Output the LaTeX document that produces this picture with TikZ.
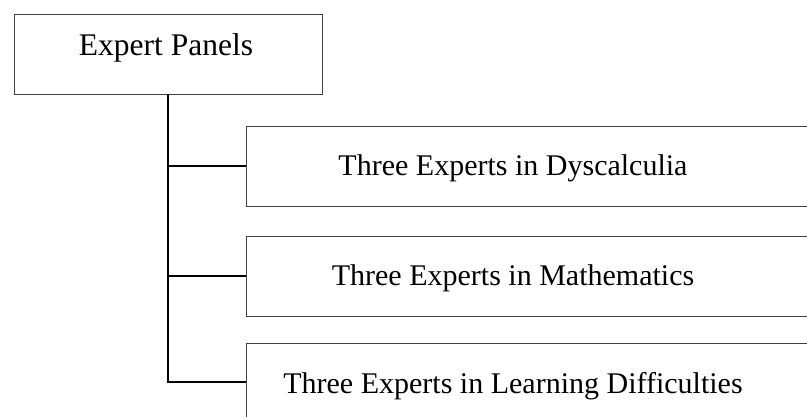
\documentclass[tikz,border=0pt]{standalone}
\usepackage{fontspec}
\setmainfont{Liberation Serif}
\begin{document}
\begin{tikzpicture}[x=1pt,y=-1pt,
  box/.style={draw=black!75, line width=1pt, minimum width=#1, anchor=north west, inner sep=0pt, outer sep=0pt},
  lbl/.style={anchor=base, inner sep=0pt, font=\fontsize{30}{36}\selectfont},
  conn/.style={draw=black, line width=1.6pt}]
\useasboundingbox (0,0) rectangle (807,416);
\clip (0,0) rectangle (807,416);
\node[box=308pt, minimum height=80pt] (ep) at (14,14) {};
\node[box=600pt, minimum height=80pt] (b1) at (246,126) {};
\node[box=600pt, minimum height=80pt] (b2) at (246,236) {};
\node[box=600pt, minimum height=78pt] (b3) at (246,343) {};
\node[lbl, font=\fontsize{31.5}{36}\selectfont] (tep) at (166,55) {Expert Panels};
\node[lbl] (t1) at (513,175) {Three Experts in Dyscalculia};
\node[lbl] (t2) at (513,285) {Three Experts in Mathematics};
\node[lbl] (t3) at (513,393) {Three Experts in Learning Difficulties};
\draw[conn] (ep.south) |- (b3.west);
\draw[conn] (ep.south) |- (b1.west);
\draw[conn] (ep.south) |- (b2.west);
\end{tikzpicture}
\end{document}
